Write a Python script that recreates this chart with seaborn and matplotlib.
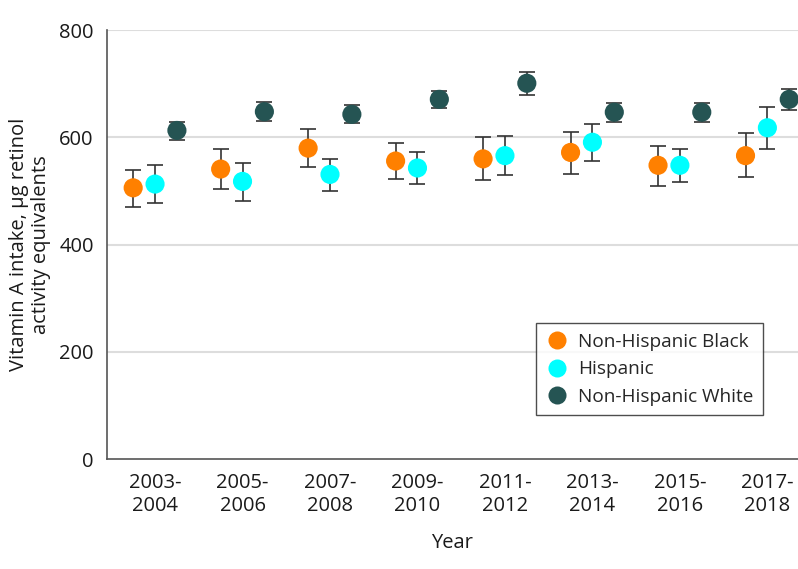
import numpy as np
import pandas as pd
import seaborn as sns
import matplotlib.pyplot as plt
from matplotlib.lines import Line2D

periods = ['2003-\n2004', '2005-\n2006', '2007-\n2008', '2009-\n2010',
           '2011-\n2012', '2013-\n2014', '2015-\n2016', '2017-\n2018']
groups = ['Non-Hispanic Black', 'Hispanic', 'Non-Hispanic White']

black_mean = [506, 541, 580, 556, 560, 572, 548, 566]
black_low = [470, 504, 545, 523, 520, 532, 510, 526]
black_high = [540, 578, 615, 589, 600, 611, 584, 608]

hisp_mean = [513, 518, 531, 543, 566, 591, 548, 618]
hisp_low = [477, 482, 500, 513, 529, 556, 516, 579]
hisp_high = [548, 552, 560, 572, 602, 625, 579, 656]

white_mean = [613, 648, 643, 671, 701, 647, 647, 671]
white_low = [596, 630, 627, 655, 680, 629, 628, 651]
white_high = [629, 666, 660, 687, 722, 665, 665, 691]

colors = {'Non-Hispanic Black': '#FF8000', 'Hispanic': '#00FFFF',
          'Non-Hispanic White': '#255453'}
offsets = {'Non-Hispanic Black': -0.25, 'Hispanic': 0.0, 'Non-Hispanic White': 0.25}

rows = []
for g, m, lo, hi in [(groups[0], black_mean, black_low, black_high),
                     (groups[1], hisp_mean, hisp_low, hisp_high),
                     (groups[2], white_mean, white_low, white_high)]:
    for i, p in enumerate(periods):
        rows.append({'period': p, 'idx': i, 'group': g, 'mean': m[i], 'low': lo[i], 'high': hi[i]})
df = pd.DataFrame(rows)
df['x'] = df['idx'] + df['group'].map(offsets)

sns.set_style('white')
plt.rcParams['font.family'] = ['Open Sans', 'DejaVu Sans']

fig = plt.figure(figsize=(7.98, 5.69), dpi=100)
ax = fig.add_axes([0.134, 0.193, 0.866, 0.754])

for g in groups:
    d = df[df['group'] == g]
    ax.errorbar(d['x'], d['mean'], yerr=[d['mean'] - d['low'], d['high'] - d['mean']],
                fmt='none', ecolor='#333333', elinewidth=1.2, capsize=6, capthick=1.2, zorder=2)

sns.scatterplot(data=df, x='x', y='mean', hue='group', palette=colors, s=190,
                edgecolor='none', ax=ax, zorder=3, legend=False)

ax.set_xlim(-0.55, 7.35)
ax.set_ylim(0, 800)
ax.set_yticks([0, 200, 400, 600, 800])
ax.set_xticks(range(len(periods)))
ax.set_xticklabels(periods, fontsize=14.5, color='#1a1a1a', linespacing=1.2)
ax.tick_params(axis='y', labelsize=14.5, colors='#1a1a1a', length=6, width=1, color='#555555')
ax.tick_params(axis='x', length=6, width=1, color='#555555', pad=4)
for v in [200, 400, 600, 800]:
    ax.axhline(v, color='#dddddd', lw=1.5, zorder=0)

for s in ['top', 'right']:
    ax.spines[s].set_visible(False)
for s in ['left', 'bottom']:
    ax.spines[s].set_color('#555555')
    ax.spines[s].set_linewidth(1.2)

ax.set_xlabel('Year', fontsize=14.5, color='#1a1a1a', labelpad=12)
ax.set_ylabel('Vitamin A intake, µg retinol\nactivity equivalents', fontsize=14.5,
              color='#1a1a1a', labelpad=6, linespacing=1.1)

handles = [Line2D([], [], marker='o', linestyle='none', markersize=13,
                  markerfacecolor=colors[g], markeredgecolor='none') for g in groups]
leg = ax.legend(handles, groups, loc='upper left', bbox_to_anchor=(0.621, 0.317),
                fontsize=13.7, frameon=True, fancybox=False, handletextpad=0.5,
                borderpad=0.5, labelspacing=0.5, handlelength=1.2, borderaxespad=0)
leg.get_frame().set_edgecolor('#222222')
leg.get_frame().set_linewidth(1.0)

fig.savefig('out.png', dpi=100)
